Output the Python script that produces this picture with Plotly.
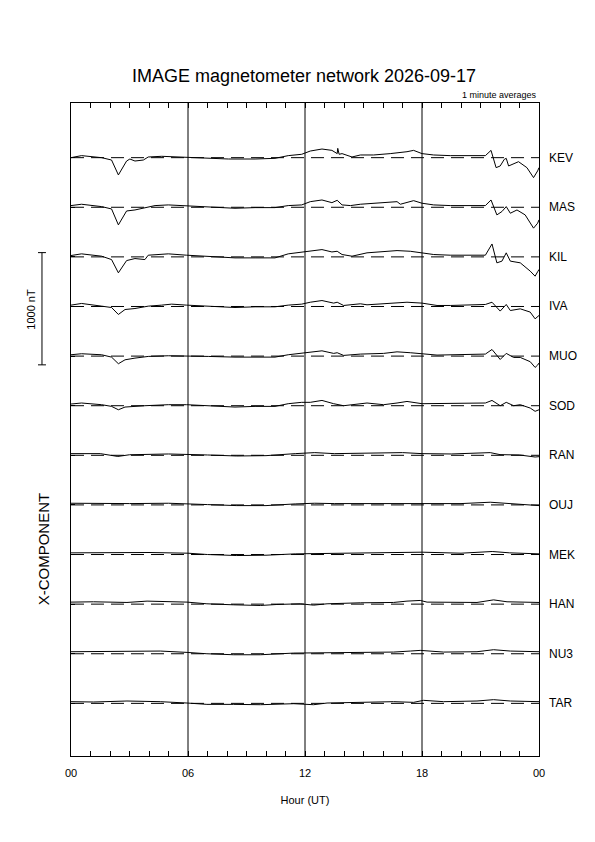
import plotly.graph_objects as go

# station codes, top to bottom
stations = ['KEV', 'MAS', 'KIL', 'IVA', 'MUO', 'SOD', 'RAN', 'OUJ', 'MEK', 'HAN', 'NU3', 'TAR']

# X-component deviations from baseline (nT) at (hour, nT)
kev_t = [0, 0.54, 1.57, 2.08, 2.43, 2.85, 3.02, 3.28, 3.71, 3.96, 4.65, 5.33, 5.93, 7.04, 8.07, 9.44,
         10.46, 11.14, 11.83, 12.27, 12.87, 13.38, 13.65, 13.68, 13.75, 13.9, 14.41, 14.84, 15.52,
         16.37, 16.89, 17.23, 17.57, 18.0, 18.6, 19.45, 21.25, 21.54, 21.8, 22.01, 22.22, 22.32,
         22.44, 22.61, 22.95, 23.38, 23.72, 23.93, 24]
kev_x = [0, 18, 0, -21, -154, -30, -12, -30, -21, 6, 12, 6, 3, -6, -12, -12,
         -6, 18, 30, 59, 77, 65, 36, 83, 30, 36, 6, 24, 24,
         36, 44, 53, 65, 36, 24, 18, 18, 65, -89, -74, -15, -6,
         -74, -59, -36, -89, -178, -118, -89]

mas_t = [0, 0.54, 1.57, 2.08, 2.43, 2.85, 3.28, 3.79, 4.31, 4.99, 5.93, 7.04, 8.41, 9.44, 10.46,
         11.14, 11.83, 12.27, 12.87, 13.38, 13.65, 13.9, 14.33, 14.84, 16.03, 16.72, 16.89, 17.57,
         18.0, 18.6, 19.45, 21.25, 21.54, 21.84, 22.1, 22.32, 22.53, 22.87, 23.29, 23.72, 23.93, 24]
mas_x = [15, 27, 6, -15, -157, -33, -24, -3, 15, 21, 12, 6, -9, -3, -3,
         15, 21, 50, 65, 41, 62, 21, 15, 27, 38, 50, 27, 59,
         36, 21, 15, 15, 65, -68, -38, 6, -53, -24, -68, -186, -142, -112]

kil_t = [0, 0.54, 1.57, 2.08, 2.43, 2.85, 3.28, 3.79, 3.96, 4.99, 5.93, 7.04, 8.41, 9.44, 10.46,
         11.14, 11.83, 12.27, 12.87, 13.38, 13.65, 13.9, 14.41, 15.18, 16.03, 16.72, 17.4, 18.0,
         18.6, 19.45, 21.25, 21.59, 21.84, 22.1, 22.32, 22.53, 23.04, 23.55, 23.8, 23.93, 24]
kil_x = [12, 27, 6, -24, -142, -33, -15, -24, 15, 27, 15, 6, -9, -9, -9,
         27, 44, 50, 65, 44, 50, 21, 6, 36, 44, 56, 50, 36,
         21, 15, 15, 115, -53, -38, 36, -38, -53, -127, -172, -133, -112]

iva_t = [0, 0.54, 1.57, 2.08, 2.43, 2.77, 3.28, 3.96, 4.65, 5.16, 5.93, 7.04, 8.41, 9.44, 10.46,
         11.14, 11.83, 12.27, 12.87, 13.47, 13.65, 13.98, 14.84, 15.18, 16.03, 16.72, 17.23, 18.0,
         18.77, 19.45, 21.25, 21.59, 22.01, 22.32, 22.53, 23.04, 23.55, 23.8, 23.93, 24]
iva_x = [12, 27, 3, -9, -71, -27, -18, 3, 12, 21, 12, 3, -9, -3, -3,
         12, 21, 38, 53, 30, 38, 9, 24, 15, 24, 30, 38, 30,
         9, 9, 18, 38, -41, 18, -36, -21, -50, -110, -95, -80]

muo_t = [0, 0.54, 1.57, 2.08, 2.43, 2.77, 3.28, 3.96, 4.99, 5.93, 7.04, 8.41, 9.44, 10.46, 11.14,
         11.83, 12.27, 12.87, 13.47, 13.65, 13.98, 14.84, 16.03, 16.72, 17.4, 18.0, 18.77, 21.25,
         21.59, 22.01, 22.32, 22.7, 23.04, 23.55, 23.8, 23.93, 24]
muo_x = [12, 21, 12, -9, -68, -33, -18, -3, 3, 3, -3, -9, -9, -9, 12,
         27, 38, 47, 24, 30, 6, 18, 24, 38, 30, 18, 9, 18,
         59, -30, 24, -12, -12, -50, -101, -80, -62]

sod_t = [0, 0.54, 1.57, 2.08, 2.43, 2.77, 3.79, 4.99, 5.93, 7.04, 8.41, 9.44, 10.46, 11.14, 11.83,
         12.27, 12.87, 13.47, 13.98, 15.18, 16.03, 16.72, 17.23, 18.0, 18.77, 21.25, 21.59, 22.01,
         22.32, 22.7, 23.04, 23.55, 23.8, 23.93, 24]
sod_x = [15, 24, 9, -6, -36, -12, 0, 9, 9, 0, -12, -6, -6, 18, 30,
         30, 47, 18, 0, 24, 9, 24, 38, 18, 18, 24, 47, 0,
         30, 0, 9, -21, -50, -41, -36]

ran_t = [0, 1.5, 2.4, 3.0, 5.0, 6.0, 7.0, 8.5, 10.0, 11.5, 12.5, 13.5, 15.0, 17.0, 18.0, 19.5,
         21.5, 22.0, 23.0, 23.8, 24]
ran_x = [15, 15, -10, 5, 12, 10, 3, -6, -3, 15, 24, 15, 18, 24, 15, 12,
         24, 6, 3, -15, -12]

ouj_t = [0, 2.0, 3.0, 5.0, 6.0, 7.0, 8.5, 10.0, 11.5, 12.5, 13.5, 15.0, 17.0, 18.0, 20.0, 21.5,
         22.5, 23.5, 24]
ouj_x = [15, 12, 12, 15, 12, 3, -6, -6, 9, 15, 12, 12, 18, 15, 12, 24,
         12, 0, -6]

mek_t = [0, 2.0, 4.0, 6.0, 7.0, 8.5, 10.0, 11.5, 13.0, 15.0, 17.0, 18.0, 20.0, 21.6, 22.5, 24]
mek_x = [15, 18, 18, 12, 0, -9, -6, 6, 9, 12, 18, 21, 12, 27, 15, 6]

han_t = [0, 1.16, 2.87, 3.9, 5.95, 6.97, 8.34, 9.71, 10.56, 11.76, 12.44, 13.13, 14.84, 16.54,
         17.23, 17.91, 18.26, 19.96, 20.82, 21.67, 22.36, 24]
han_x = [18, 21, 15, 27, 18, 3, -6, -12, -3, 3, -9, 3, 12, 15,
         27, 33, 18, 12, 15, 38, 21, 15]

nur_t = [0, 1.16, 2.87, 4.58, 5.95, 6.97, 8.34, 9.71, 11.42, 13.13, 14.84, 16.54, 17.4, 17.91,
         19.11, 20.82, 21.67, 22.53, 24]
nur_x = [18, 21, 24, 24, 12, 0, -9, -9, 6, 9, 12, 15, 24, 30,
         15, 18, 36, 24, 18]

tar_t = [0, 1.16, 2.87, 4.58, 5.95, 6.97, 8.34, 9.71, 11.42, 12.44, 13.13, 14.84, 16.54, 17.57,
         18.08, 19.11, 20.82, 21.67, 22.53, 24]
tar_x = [15, 12, 21, 15, 3, -9, -9, -12, -3, -12, 3, 9, 15, 9,
         27, 15, 21, 33, 21, 15]

series = [(kev_t, kev_x), (mas_t, mas_x), (kil_t, kil_x), (iva_t, iva_x), (muo_t, muo_x),
          (sod_t, sod_x), (ran_t, ran_x), (ouj_t, ouj_x), (mek_t, mek_x), (han_t, han_x),
          (nur_t, nur_x), (tar_t, tar_x)]

hour_ticks = list(range(25))
hour_labels = ['00', '06', '12', '18', '00']

SPACING = 442          # nT between station baselines
Y_TOP = 487
Y_BOTTOM = -(len(stations) - 1) * SPACING - 469
SCALE_NT = 1000
FONT = 'Liberation Sans, Arial, sans-serif'
BLACK = dict(family=FONT, color='black')

fig = go.Figure()
baselines = []
for i, (name, (t, x)) in enumerate(zip(stations, series)):
    base = -i * SPACING
    baselines.append(base)
    fig.add_trace(go.Scatter(x=[0, 24], y=[base, base], mode='lines',
                             line=dict(color='black', width=1, dash='13px,7px'),
                             hoverinfo='skip', showlegend=False))
    fig.add_trace(go.Scatter(x=t, y=[base + v for v in x], mode='lines',
                             line=dict(color='black', width=1), name=name,
                             showlegend=False))
    fig.add_annotation(x=1, xref='paper', xanchor='left', xshift=8, y=base, yref='y',
                       yanchor='middle', text=name, showarrow=False,
                       font=dict(BLACK, size=12))

for h in (6, 12, 18):
    fig.add_shape(type='line', xref='x', yref='paper', x0=h, x1=h, y0=0, y1=1,
                  line=dict(color='black', width=1))


def to_paper(v):
    return (v - Y_BOTTOM) / (Y_TOP - Y_BOTTOM)


# 1000 nT scale bar, around the IVA baseline
mid = baselines[3] - 20
top = to_paper(mid + SCALE_NT / 2)
bot = to_paper(mid - SCALE_NT / 2)
bx = -0.062
fig.add_shape(type='line', xref='paper', yref='paper', x0=bx, x1=bx, y0=bot, y1=top,
              line=dict(color='black', width=1))
for yy in (top, bot):
    fig.add_shape(type='line', xref='paper', yref='paper', x0=bx - 0.0085, x1=bx + 0.0085,
                  y0=yy, y1=yy, line=dict(color='black', width=1))
fig.add_annotation(x=bx, xref='paper', xanchor='center', xshift=-11, y=mid, yref='y',
                   yanchor='middle', text='1000 nT', textangle=-90, showarrow=False,
                   font=dict(BLACK, size=11))

fig.add_annotation(x=1, xref='paper', xanchor='right', y=1, yref='paper', yanchor='bottom',
                   yshift=1, text='1 minute averages', showarrow=False,
                   font=dict(BLACK, size=9))
fig.add_annotation(x=bx, xref='paper', xanchor='center', xshift=1, y=0.318, yref='paper',
                   yanchor='middle', text='X-COMPONENT', textangle=-90, showarrow=False,
                   font=dict(BLACK, size=15))

fig.update_layout(
    width=595, height=842,
    template='none',
    font=dict(BLACK, size=11),
    margin=dict(l=63, r=64, t=95, b=94),
    paper_bgcolor='white', plot_bgcolor='white',
    title=dict(text='IMAGE magnetometer network 2026-09-17', x=296 / 595, xanchor='center',
               y=1 - 68 / 842, yanchor='middle', font=dict(BLACK, size=18)),
    xaxis=dict(range=[0, 24], showgrid=False, zeroline=False, showline=True,
               linecolor='black', linewidth=1, mirror='ticks', ticks='inside',
               ticklen=5, tickcolor='black', tickvals=hour_ticks,
               ticktext=[hour_labels[h // 6] if h % 6 == 0 else '' for h in hour_ticks],
               tickfont=dict(BLACK, size=11), ticklabelstandoff=7,
               title=dict(text='Hour (UT)', standoff=18, font=dict(BLACK, size=11))),
    yaxis=dict(range=[Y_BOTTOM, Y_TOP], showgrid=False, zeroline=False, showline=True,
               linecolor='black', linewidth=1, mirror=True, ticks='inside', ticklen=4,
               tickcolor='black', tickvals=baselines, showticklabels=False),
)

fig.write_html('out.html')
